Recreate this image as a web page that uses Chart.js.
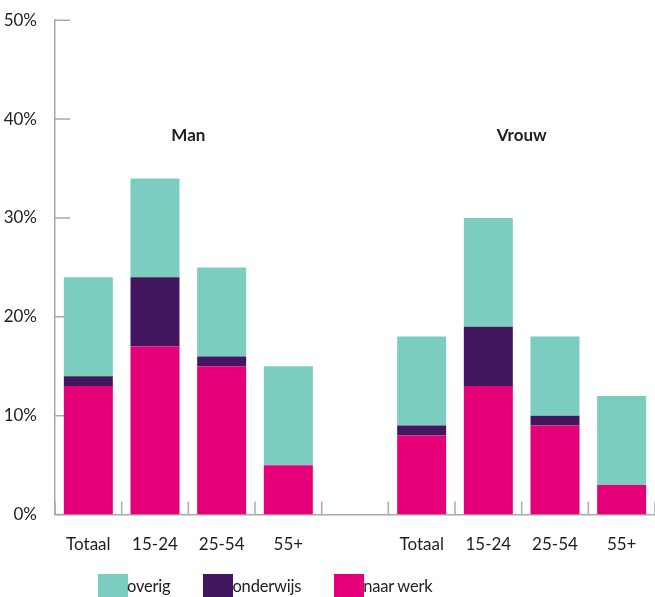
<!DOCTYPE html>
<html>
<head>
<meta charset="utf-8">
<script src="https://cdn.jsdelivr.net/npm/chart.js@4/dist/chart.umd.min.js"></script>
<style>
    html, body { margin: 0; padding: 0; background: #fff; }
    #wrap { position: relative; width: 655px; height: 597px; }
    #legend { position: absolute; left: 98px; top: 574px; display: flex; font: 16.5px Lato, sans-serif; color: #222; }
    .item { display: flex; align-items: center; margin-right: 33px; }
    .box { width: 30px; height: 23px; }
    .item span { margin-left: -1px; letter-spacing: -0.2px; }
</style>
</head>
<body>
<div id="wrap">
    <canvas id="chart" width="655" height="597"></canvas>
    <div id="legend"></div>
</div>
<script>
"use strict";

const categories = ['Totaal', '15-24', '25-54', '55+', '', 'Totaal', '15-24', '25-54', '55+'];
const groupNames = ['Man', 'Vrouw'];
const naarWerk  = [13, 17, 15, 5, null, 8, 13, 9, 3];
const onderwijs = [1, 7, 1, 0, null, 1, 6, 1, 0];
const overig    = [10, 10, 9, 10, null, 9, 11, 8, 9];
const yTicks = [0, 10, 20, 30, 40, 50];
const groupLabelLevel = 38.3;

const FONT = 'Lato, sans-serif';
const AXIS = '#aaaaaa';
const TEXT = '#1e1e1e';

const datasets = [
    {label: 'naar werk', data: naarWerk,  backgroundColor: '#e5007a'},
    {label: 'onderwijs', data: onderwijs, backgroundColor: '#42175f'},
    {label: 'overig',    data: overig,    backgroundColor: '#7bcdbf'}
];

// center index of each group (runs of categories separated by the empty one)
function groupCenters() {
    const centers = [];
    let start = null;
    categories.forEach((c, i) => {
        if (c !== '' && start === null) start = i;
        if ((c === '' || i === categories.length - 1) && start !== null) {
            const end = c === '' ? i - 1 : i;
            centers.push((start + end) / 2);
            start = null;
        }
    });
    return centers;
}

const innerTicks = {
    id: 'innerTicks',
    beforeDatasetsDraw(chart) {
        const {ctx, chartArea, scales: {x, y}} = chart;
        ctx.save();
        ctx.strokeStyle = AXIS;
        ctx.lineWidth = 1.5;
        ctx.beginPath();
        yTicks.forEach(v => {
            const py = y.getPixelForValue(v);
            ctx.moveTo(chartArea.left, py);
            ctx.lineTo(chartArea.left + 15, py);
        });
        for (let i = 0; i <= categories.length; i++) {
            const px = x.getPixelForValue(i - 0.5);
            ctx.moveTo(px, chartArea.bottom);
            ctx.lineTo(px, chartArea.bottom - 13);
        }
        ctx.stroke();
        ctx.restore();
    },
    afterDatasetsDraw(chart) {
        const {ctx, scales: {x, y}} = chart;
        ctx.save();
        ctx.fillStyle = TEXT;
        ctx.font = 'bold 17px ' + FONT;
        ctx.textAlign = 'center';
        ctx.textBaseline = 'middle';
        groupCenters().forEach((c, i) => {
            ctx.fillText(groupNames[i], x.getPixelForValue(c), y.getPixelForValue(groupLabelLevel));
        });
        ctx.restore();
    }
};

new Chart(document.getElementById('chart'), {
    type: 'bar',
    data: {labels: categories, datasets: datasets},
    plugins: [innerTicks],
    options: {
        responsive: false,
        animation: false,
        layout: {padding: {top: 18, right: 0, bottom: 30, left: 0}},
        datasets: {bar: {barPercentage: 0.735, categoryPercentage: 1}},
        plugins: {legend: {display: false}, tooltip: {enabled: false}},
        scales: {
            x: {
                stacked: true,
                grid: {display: false},
                border: {color: AXIS, width: 1.5},
                ticks: {padding: 12, color: TEXT, font: {family: FONT, size: 17}}
            },
            y: {
                stacked: true,
                min: 0,
                max: 50,
                afterFit: s => { s.width = 55; },
                grid: {display: false},
                border: {color: AXIS, width: 1.5},
                ticks: {stepSize: 10, padding: 10, color: TEXT, font: {family: FONT, size: 17},
                    callback: v => v + '%'}
            }
        }
    }
});

// legend, top series first
const legend = document.getElementById('legend');
datasets.slice().reverse().forEach(ds => {
    const item = document.createElement('div');
    item.className = 'item';
    item.innerHTML = '<div class="box" style="background:' + ds.backgroundColor + '"></div><span>' + ds.label + '</span>';
    legend.appendChild(item);
});
</script>
</body>
</html>
